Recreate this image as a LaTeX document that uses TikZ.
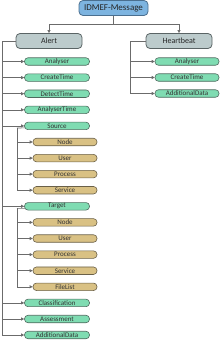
\documentclass[tikz,border=0pt]{standalone}
\usepackage{fontspec}
\setmainfont{Carlito}
\usetikzlibrary{arrows.meta}
\definecolor{msgfill}{HTML}{7DB4E0}
\definecolor{msgdraw}{HTML}{4A6F8F}
\definecolor{topfill}{HTML}{BCCBCC}
\definecolor{topdraw}{HTML}{5A6465}
\definecolor{grnfill}{HTML}{7FDCB2}
\definecolor{grndraw}{HTML}{4F6B5F}
\definecolor{tanfill}{HTML}{D9C184}
\definecolor{tandraw}{HTML}{6A6048}
\definecolor{linec}{HTML}{6B6B6B}
\tikzset{
  msgbox/.style={draw=msgdraw, fill=msgfill, line width=0.8pt, rounded corners=4pt, minimum width=69pt, minimum height=15pt, inner sep=0pt, font=\fontsize{9}{10}\selectfont, text=black!85},
  topbox/.style={draw=topdraw, fill=topfill, line width=0.8pt, rounded corners=4pt, minimum width=66pt, minimum height=15pt, inner sep=0pt, font=\fontsize{8}{9}\selectfont, text=black!85},
  grnbox/.style={draw=grndraw, fill=grnfill, line width=0.6pt, rounded corners=3.5pt, minimum width=65pt, minimum height=7.5pt, inner sep=0pt, font=\fontsize{7}{7}\selectfont, text=black!80},
  tanbox/.style={draw=tandraw, fill=tanfill, line width=0.6pt, rounded corners=3.5pt, minimum width=64pt, minimum height=7.5pt, inner sep=0pt, font=\fontsize{7}{7}\selectfont, text=black!80},
  conn/.style={draw=linec, line width=0.6pt},
  arr/.style={conn, -{Triangle[length=3pt,width=3pt]}}
}
\begin{document}
\begin{tikzpicture}[x=1pt,y=-1pt]
\useasboundingbox (0,0) rectangle (220,341);
\node[msgbox] (msg) at (113.5,8) {IDMEF-Message};
\node[topbox] (alert) at (49,41) {Alert};
\node[topbox] (hb) at (179,41) {Heartbeat};
\coordinate (j) at (113.5,24);
\draw[conn] (msg.south) -- (j);
\draw[arr] (j) -| (alert.north);
\draw[arr] (j) -| (hb.north);
% Heartbeat children
\node[grnbox, minimum width=64pt] (hb1) at (187,61.5) {Analyser};
\node[grnbox, minimum width=64pt] (hb2) at (187,77.5) {CreateTime};
\node[grnbox, minimum width=64pt] (hb3) at (187,93.5) {AdditionalData};
\coordinate (hbus) at (130,41);
\draw[conn] (hb.west) -- (hbus);
\foreach \c in {hb1,hb2,hb3} \draw[arr] (hbus) |- (\c.west);
% Alert children
\node[grnbox] (a1) at (57,61.5) {Analyser};
\node[grnbox] (a2) at (57,77.6) {CreateTime};
\node[grnbox] (a3) at (57,93.7) {DetectTime};
\node[grnbox] (a4) at (57,109.8) {AnalyserTime};
\node[grnbox] (src) at (57,125.9) {Source};
\node[tanbox] (s1) at (65,142.0) {Node};
\node[tanbox] (s2) at (65,158.1) {User};
\node[tanbox] (s3) at (65,174.1) {Process};
\node[tanbox] (s4) at (65,190.2) {Service};
\node[grnbox] (tgt) at (57,206.3) {Target};
\node[tanbox] (t1) at (65,222.4) {Node};
\node[tanbox] (t2) at (65,238.5) {User};
\node[tanbox] (t3) at (65,254.6) {Process};
\node[tanbox] (t4) at (65,270.7) {Service};
\node[tanbox] (t5) at (65,286.8) {FileList};
\node[grnbox] (a5) at (57,302.9) {Classification};
\node[grnbox] (a6) at (57,319.0) {Assessment};
\node[grnbox] (a7) at (57,335.0) {AdditionalData};
\coordinate (abus) at (2,41);
\draw[conn] (alert.west) -- (abus);
\foreach \c in {a1,a2,a3,a4,src,tgt,a5,a6,a7} \draw[arr] (abus) |- (\c.west);
\coordinate (sbus) at (17,128);
\draw[conn] ([shift={(1,2)}]src.west) -- (sbus);
\foreach \c in {s1,s2,s3,s4} \draw[arr] (sbus) |- (\c.west);
\coordinate (tbus) at (17,208.4);
\draw[conn] ([shift={(1,2)}]tgt.west) -- (tbus);
\foreach \c in {t1,t2,t3,t4,t5} \draw[arr] (tbus) |- (\c.west);
\end{tikzpicture}
\end{document}
